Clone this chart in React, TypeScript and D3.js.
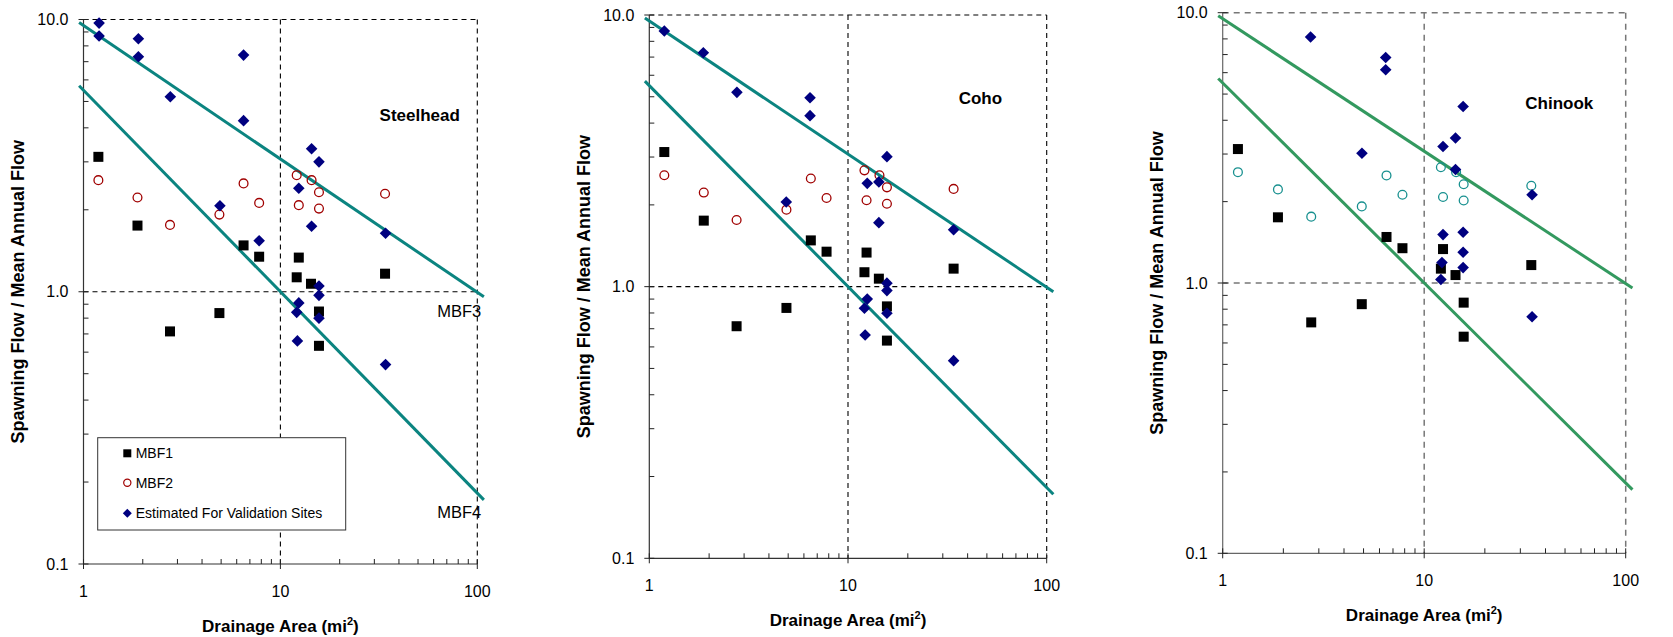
import { useEffect, useRef } from 'react'
import * as d3 from 'd3'

// MBF1 / MBF2 site data (same in all three panels)
const mbf1Area = [1.19, 1.88, 2.75, 4.9, 6.5, 7.8, 12.1, 12.4, 14.3, 15.7, 15.7, 34]
const mbf1Ratio = [3.13, 1.75, 0.715, 0.835, 1.48, 1.345, 1.13, 1.335, 1.07, 0.846, 0.633, 1.165]
const mbf2Area = [1.19, 1.88, 2.75, 4.9, 6.5, 7.8, 12.1, 12.4, 14.4, 15.7, 15.7, 34]
const mbf2Ratio = [2.57, 2.22, 1.76, 1.92, 2.5, 2.12, 2.68, 2.08, 2.57, 2.32, 2.02, 2.29]

// estimated for validation sites, per species
const steelheadArea = [1.2, 1.2, 1.9, 1.9, 2.76, 4.93, 6.5, 6.5, 7.8, 12.1, 12.2, 12.4, 12.4, 14.4, 14.4, 15.7, 15.7, 15.7, 15.7, 34.2, 34.2]
const steelheadRatio = [9.7, 8.7, 8.5, 7.3, 5.2, 2.07, 7.4, 4.25, 1.54, 0.84, 0.66, 2.4, 0.91, 3.35, 1.74, 3.0, 1.05, 0.97, 0.8, 1.64, 0.54]
const cohoArea = [1.19, 1.87, 2.76, 4.89, 6.44, 6.44, 12.1, 12.2, 12.5, 12.5, 14.3, 14.3, 15.7, 15.7, 15.7, 15.7, 34, 34]
const cohoRatio = [8.73, 7.26, 5.19, 2.05, 4.96, 4.26, 0.833, 0.664, 2.4, 0.9, 2.43, 1.72, 3.01, 1.03, 0.967, 0.798, 1.62, 0.534]
const chinookArea = [2.73, 4.91, 6.44, 6.44, 12.1, 12.25, 12.4, 12.4, 14.3, 14.3, 15.6, 15.6, 15.6, 15.6, 34.3, 34.3]
const chinookRatio = [8.13, 3.02, 6.83, 6.15, 1.03, 1.19, 3.2, 1.51, 3.44, 2.63, 4.5, 1.54, 1.3, 1.14, 2.12, 0.75]

// MBF3 / MBF4 envelope lines (end points)
const lineArea = [0.95, 108]
const mbf3Ratio = [9.74, 0.958]
const mbf4Ratio = [5.71, 0.172]

const xTicks = [1, 10, 100]
const yTicks = [0.1, 1, 10]

const panels = [
  {
    name: 'Steelhead', area: steelheadArea, ratio: steelheadRatio,
    left: 83.5, right: 477.3, top: 19.5, bottom: 564,
    labelAt: [51, 4.23], line: '#0b8480', circle: '#a00000',
    grid: '#000', gridDash: '5,4', gridWidth: 1.1, axis: '#333', legend: true, mbfLabels: true,
  },
  {
    name: 'Coho', area: cohoArea, ratio: cohoRatio,
    left: 649.3, right: 1046.7, top: 15, bottom: 558.3,
    labelAt: [46.4, 4.7], line: '#0b8480', circle: '#a00000',
    grid: '#000', gridDash: '5,4', gridWidth: 1.1, axis: '#333', legend: false, mbfLabels: false,
  },
  {
    name: 'Chinook', area: chinookArea, ratio: chinookRatio,
    left: 1222.7, right: 1625.7, top: 12.7, bottom: 553.3,
    labelAt: [46.8, 4.4], line: '#33995f', circle: '#17908f',
    grid: '#777', gridDash: '6,5', gridWidth: 1.5, axis: '#666', legend: false, mbfLabels: false,
  },
]

const FONT = 'Liberation Sans, Arial, sans-serif'

const diamond = (r: number) => `M0,${-r}L${r},0L0,${r}L${-r},0Z`

export default function App() {
  const svgRef = useRef<SVGSVGElement>(null)

  useEffect(() => {
    if (!svgRef.current) return
    const svg = d3.select(svgRef.current)
    svg.selectAll('*').remove()

    panels.forEach(p => {
      const x = d3.scaleLog().domain([1, 100]).range([p.left, p.right])
      const y = d3.scaleLog().domain([0.1, 10]).range([p.bottom, p.top])
      const g = svg.append('g')

      // dashed grid at the decades
      ;[10, 100].forEach(v => {
        g.append('line')
          .attr('x1', x(v)).attr('x2', x(v))
          .attr('y1', p.top).attr('y2', p.bottom)
          .attr('stroke', p.grid).attr('stroke-width', p.gridWidth)
          .attr('stroke-dasharray', p.gridDash)
      })
      ;[1, 10].forEach(v => {
        g.append('line')
          .attr('x1', p.left).attr('x2', p.right)
          .attr('y1', y(v)).attr('y2', y(v))
          .attr('stroke', p.grid).attr('stroke-width', p.gridWidth)
          .attr('stroke-dasharray', p.gridDash)
      })

      // axes
      g.append('line')
        .attr('x1', p.left).attr('x2', p.left).attr('y1', p.top).attr('y2', p.bottom)
        .attr('stroke', p.axis).attr('stroke-width', 1.2)
      g.append('line')
        .attr('x1', p.left).attr('x2', p.right).attr('y1', p.bottom).attr('y2', p.bottom)
        .attr('stroke', p.axis).attr('stroke-width', 1.2)

      const minor = [2, 3, 4, 5, 6, 7, 8, 9]
      const yMinor = [...minor.map(m => m / 10), ...minor]
      const xMinor = [...minor, ...minor.map(m => m * 10)]

      yMinor.forEach(v => {
        g.append('line')
          .attr('x1', p.left).attr('x2', p.left + 5)
          .attr('y1', y(v)).attr('y2', y(v))
          .attr('stroke', '#222').attr('stroke-width', 1)
      })
      yTicks.forEach(v => {
        g.append('line')
          .attr('x1', p.left - 5).attr('x2', p.left + 5)
          .attr('y1', y(v)).attr('y2', y(v))
          .attr('stroke', '#222').attr('stroke-width', 1)
        g.append('text')
          .attr('x', p.left - 15).attr('y', y(v))
          .attr('dy', '0.35em')
          .attr('text-anchor', 'end')
          .attr('font-family', FONT).attr('font-size', 16)
          .text(d3.format('.1f')(v))
      })
      xMinor.forEach(v => {
        g.append('line')
          .attr('x1', x(v)).attr('x2', x(v))
          .attr('y1', p.bottom - 5).attr('y2', p.bottom)
          .attr('stroke', '#222').attr('stroke-width', 1)
      })
      xTicks.forEach(v => {
        g.append('line')
          .attr('x1', x(v)).attr('x2', x(v))
          .attr('y1', p.bottom - 5).attr('y2', p.bottom + 5)
          .attr('stroke', '#222').attr('stroke-width', 1)
        g.append('text')
          .attr('x', x(v)).attr('y', p.bottom + 33)
          .attr('text-anchor', 'middle')
          .attr('font-family', FONT).attr('font-size', 16)
          .text(v)
      })

      // axis titles
      const xt = g.append('text')
        .attr('x', (p.left + p.right) / 2).attr('y', p.bottom + 68)
        .attr('text-anchor', 'middle')
        .attr('font-family', FONT).attr('font-size', 17).attr('font-weight', 'bold')
      xt.append('tspan').text('Drainage Area (mi')
      xt.append('tspan').attr('font-size', 11).attr('dy', -7).text('2')
      xt.append('tspan').attr('dy', 7).text(')')

      g.append('text')
        .attr('transform', `translate(${p.left - 66},${(p.top + p.bottom) / 2}) rotate(-90)`)
        .attr('dy', '0.35em')
        .attr('text-anchor', 'middle')
        .attr('font-family', FONT).attr('font-size', 18).attr('font-weight', 'bold')
        .text('Spawning Flow / Mean Annual Flow')

      // envelope lines
      const line = d3.line<number>()
        .x((d, i) => x(lineArea[i]))
        .y(d => y(d))
      ;[mbf3Ratio, mbf4Ratio].forEach(r => {
        g.append('path')
          .attr('d', line(r))
          .attr('fill', 'none')
          .attr('stroke', p.line)
          .attr('stroke-width', 3)
      })

      // MBF2 open circles
      mbf2Area.forEach((a, i) => {
        g.append('circle')
          .attr('cx', x(a)).attr('cy', y(mbf2Ratio[i]))
          .attr('r', 4.4)
          .attr('fill', 'none')
          .attr('stroke', p.circle).attr('stroke-width', 1.3)
      })
      // MBF1 squares
      mbf1Area.forEach((a, i) => {
        g.append('rect')
          .attr('x', x(a) - 5).attr('y', y(mbf1Ratio[i]) - 5)
          .attr('width', 10).attr('height', 10)
          .attr('fill', '#000')
      })
      // validation-site diamonds
      p.area.forEach((a, i) => {
        g.append('path')
          .attr('transform', `translate(${x(a)},${y(p.ratio[i])})`)
          .attr('d', diamond(5.8))
          .attr('fill', '#000080')
      })

      // species label
      g.append('text')
        .attr('x', x(p.labelAt[0])).attr('y', y(p.labelAt[1]))
        .attr('text-anchor', 'middle')
        .attr('font-family', FONT).attr('font-size', 17).attr('font-weight', 'bold')
        .text(p.name)

      if (p.mbfLabels) {
        g.append('text')
          .attr('x', p.right + 4).attr('y', y(0.81))
          .attr('text-anchor', 'end')
          .attr('font-family', FONT).attr('font-size', 16.5)
          .text('MBF3')
        g.append('text')
          .attr('x', p.right + 4).attr('y', y(0.147))
          .attr('text-anchor', 'end')
          .attr('font-family', FONT).attr('font-size', 16.5)
          .text('MBF4')
      }

      if (p.legend) {
        const lg = g.append('g')
        lg.append('rect')
          .attr('x', 97.7).attr('y', 437.7).attr('width', 248).attr('height', 92.3)
          .attr('fill', '#fff').attr('stroke', '#333').attr('stroke-width', 1)
        const items = ['MBF1', 'MBF2', 'Estimated For Validation Sites']
        const rows = [453.3, 482.7, 513.3]
        items.forEach((t, i) => {
          const cy = rows[i]
          if (i === 0) {
            lg.append('rect').attr('x', 123.3).attr('y', cy - 4).attr('width', 8).attr('height', 8).attr('fill', '#000')
          } else if (i === 1) {
            lg.append('circle').attr('cx', 127.3).attr('cy', cy).attr('r', 3.6)
              .attr('fill', 'none').attr('stroke', p.circle).attr('stroke-width', 1.2)
          } else {
            lg.append('path').attr('transform', `translate(127.3,${cy})`).attr('d', diamond(4.5)).attr('fill', '#000080')
          }
          lg.append('text')
            .attr('x', 135.7).attr('y', cy).attr('dy', '0.36em')
            .attr('font-family', FONT).attr('font-size', 14)
            .text(t)
        })
      }
    })
  }, [])

  return (
    <svg
      ref={svgRef}
      width={1673}
      height={637}
      style={{ position: 'absolute', left: 0, top: 0, background: '#fff' }}
    />
  )
}
